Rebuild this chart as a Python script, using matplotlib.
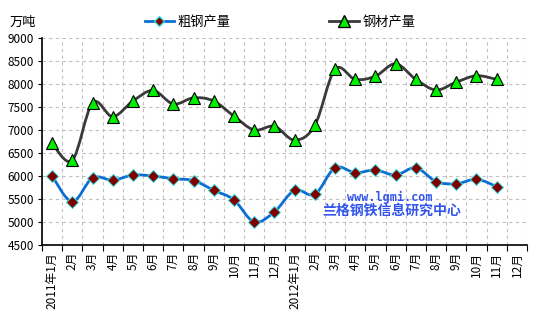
import matplotlib
matplotlib.use("Agg")
import matplotlib.pyplot as plt
from matplotlib.path import Path
from matplotlib.patches import PathPatch
from matplotlib.lines import Line2D

plt.rcParams['font.family'] = ['Noto Sans CJK SC', 'DejaVu Sans']

# monthly labels, 2011-01 .. 2012-12
months = ["2011年1月", "2月", "3月", "4月", "5月", "6月", "7月", "8月", "9月", "10月", "11月", "12月",
          "2012年1月", "2月", "3月", "4月", "5月", "6月", "7月", "8月", "9月", "10月", "11月", "12月"]

# 粗钢产量 (万吨), 2011-01 .. 2012-11
crude_steel = [6000, 5440, 5960, 5910, 6020, 6000, 5940, 5900, 5690, 5480, 5000, 5220,
               5690, 5600, 6180, 6070, 6130, 6020, 6180, 5880, 5830, 5930, 5770]
# 钢材产量 (万吨)
steel_products = [6710, 6340, 7590, 7290, 7630, 7860, 7565, 7700, 7630, 7300, 7000, 7080,
                  6780, 7100, 8320, 8100, 8170, 8440, 8100, 7870, 8040, 8180, 8100]

blue = '#0a6fd2'
dark = '#3a3a3a'


def smooth_path(ys):
    # Excel-like smoothed line: cubic bezier segments through every point
    xs = list(range(len(ys)))
    verts = [(xs[0], ys[0])]
    codes = [Path.MOVETO]
    n = len(ys)
    for i in range(n - 1):
        p0 = (xs[max(i - 1, 0)], ys[max(i - 1, 0)])
        p1 = (xs[i], ys[i])
        p2 = (xs[i + 1], ys[i + 1])
        p3 = (xs[min(i + 2, n - 1)], ys[min(i + 2, n - 1)])
        c1 = (p1[0] + (p2[0] - p0[0]) / 6, p1[1] + (p2[1] - p0[1]) / 6)
        c2 = (p2[0] - (p3[0] - p1[0]) / 6, p2[1] - (p3[1] - p1[1]) / 6)
        verts += [c1, c2, p2]
        codes += [Path.CURVE4] * 3
    return Path(verts, codes)


fig = plt.figure(figsize=(5.36, 3.25), dpi=100)
ax = fig.add_axes([42 / 536, 1 - 245 / 325, 485 / 536, 207 / 325])

ax.add_patch(PathPatch(smooth_path(steel_products), fill=False, edgecolor=dark, lw=2, zorder=3))
ax.plot(range(len(steel_products)), steel_products, ls='none', marker='^', ms=9,
        mfc='#00ee00', mec='black', mew=0.8, zorder=4)

ax.add_patch(PathPatch(smooth_path(crude_steel), fill=False, edgecolor=blue, lw=2, zorder=3))
ax.plot(range(len(crude_steel)), crude_steel, ls='none', marker='D', ms=6.5,
        mfc='#800000', mec='#33dddd', mew=0.7, zorder=4)

ax.set_xlim(-0.5, 23.5)
ax.set_ylim(4500, 9000)
ax.set_yticks(range(4500, 9001, 500))
ax.tick_params(axis='y', labelsize=8.5, length=3, pad=3)

ax.set_xticks([i - 0.5 for i in range(25)], minor=False)
ax.set_xticklabels([])
ax.set_xticks(range(24), minor=True)
ax.set_xticklabels(months, minor=True, rotation=90, fontsize=8.5, va='top')
ax.tick_params(axis='x', which='major', length=4)
ax.tick_params(axis='x', which='minor', length=0, pad=5)

ax.grid(True, which='major', color='#c0c0c0', ls=(0, (3, 3)), lw=0.8)
ax.spines['top'].set_visible(False)
ax.spines['right'].set_visible(False)
ax.spines['left'].set_linewidth(1.2)
ax.spines['bottom'].set_linewidth(1.2)

fig.text(10 / 536, 1 - 22 / 325, '万吨', fontsize=9.5, va='center')

handles = [
    Line2D([], [], color=blue, lw=2, marker='D', ms=5, mfc='#800000', mec='#33dddd'),
    Line2D([], [], color=dark, lw=2, marker='^', ms=8, mfc='#00ee00', mec='black'),
]
fig.legend(handles, ['粗钢产量', '钢材产量'], loc='center', bbox_to_anchor=(280 / 536, 1 - 22 / 325),
           ncol=2, frameon=False, fontsize=9.5, handlelength=2.2, columnspacing=7.5,
           handletextpad=0.3)

ax.text(390 / 536, 1 - 197 / 325, 'www.lgmi.com', transform=fig.transFigure, ha='center',
        va='center', color='#3355ee', fontsize=8.5, fontweight='bold', family='DejaVu Sans Mono')
ax.text(392 / 536, 1 - 211 / 325, '兰格钢铁信息研究中心', transform=fig.transFigure, ha='center',
        va='center', color='#3355ee', fontsize=10, fontweight='bold')

fig.savefig('out.png', dpi=100)
